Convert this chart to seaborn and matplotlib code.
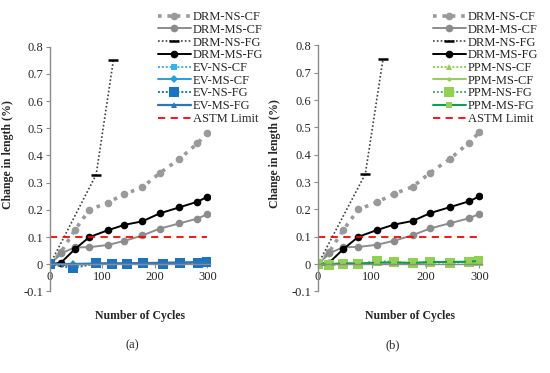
import matplotlib
matplotlib.use("Agg")
import matplotlib.pyplot as plt
import seaborn as sns
import numpy as np
from matplotlib.ticker import FuncFormatter, FixedLocator

sns.set_theme(style="white")
plt.rcParams['font.family'] = ['Liberation Serif', 'DejaVu Serif']

# ---- data ----
cycles = [0, 21, 47, 75, 110, 142, 176, 209, 246, 281, 300]
drm_ns_cf = [0, 0.045, 0.125, 0.2, 0.227, 0.258, 0.283, 0.335, 0.386, 0.445, 0.482]
drm_ms_cf = [0, 0.04, 0.062, 0.063, 0.071, 0.086, 0.106, 0.131, 0.15, 0.168, 0.184]
cycles_ns_fg = [0, 88, 121]
drm_ns_fg = [0, 0.33, 0.752]
drm_ms_fg = [0, 0.006, 0.055, 0.1, 0.125, 0.145, 0.158, 0.187, 0.209, 0.23, 0.248]

cycles_ev = [0, 44, 88, 118, 147, 178, 216, 248, 283, 300]
ev_ns_cf = [0, -0.005, 0.002, 0.003, 0.004, 0.004, 0.005, 0.006, 0.007, 0.010]
ev_ms_cf = [0, 0.002, 0.003, 0.004, 0.004, 0.005, 0.006, 0.006, 0.008, 0.012]
ev_ns_fg = [0, -0.014, 0.003, 0.002, 0.002, 0.004, 0.002, 0.005, 0.005, 0.008]
ev_ms_fg = [0, 0.000, 0.002, 0.003, 0.003, 0.004, 0.005, 0.006, 0.007, 0.010]

ppm_ns_cf = [0, 0.000, 0.003, 0.003, 0.006, 0.006, 0.004, 0.006, 0.006, 0.008, 0.010]
ppm_ms_cf = [0, 0.002, 0.003, 0.004, 0.005, 0.005, 0.006, 0.007, 0.008, 0.009, 0.011]
ppm_ns_fg = [0, -0.004, 0.002, 0.000, 0.012, 0.008, 0.003, 0.007, 0.006, 0.007, 0.012]
ppm_ms_fg = [0, -0.002, 0.003, 0.002, 0.006, 0.006, 0.004, 0.008, 0.008, 0.009, 0.012]

astm_x = [0, 300]
astm_y = [0.1, 0.1]

y_ticks = [-0.1, 0, 0.1, 0.2, 0.3, 0.4, 0.5, 0.6, 0.7, 0.8]
x_ticks = [0, 100, 200, 300]

fig = plt.figure(figsize=(5.5, 3.73), dpi=100)
axA = fig.add_axes([50/550, 1-291.5/373, 160/550, 244.8/373])
axB = fig.add_axes([318/550, 1-291.5/373, 164/550, 246/373])

txt = '#262626'
FS = 9

def draw_drm(ax):
    sns.lineplot(x=cycles, y=drm_ns_cf, ax=ax, sort=False, color='#9a9a9a', linestyle=(0, (1, 1.6)),
                 linewidth=2.6, marker='o', markersize=5.5, markeredgewidth=0, label='DRM-NS-CF')
    sns.lineplot(x=cycles, y=drm_ms_cf, ax=ax, sort=False, color='#8c8c8c', linestyle='-',
                 linewidth=1.4, marker='o', markersize=5.5, markeredgewidth=0, label='DRM-MS-CF')
    sns.lineplot(x=cycles_ns_fg, y=drm_ns_fg, ax=ax, sort=False, color='#404040', linestyle=(0, (1, 1.3)),
                 linewidth=1.2, marker='_', markersize=7, markeredgewidth=1.8, markeredgecolor='black',
                 label='DRM-NS-FG')
    sns.lineplot(x=cycles, y=drm_ms_fg, ax=ax, sort=False, color='black', linestyle='-',
                 linewidth=1.4, marker='o', markersize=5.5, markeredgewidth=0, label='DRM-MS-FG')

def style_ax(ax):
    ax.set_xlim(0, 305)
    ax.set_ylim(-0.1, 0.8)
    for s in ['top', 'right']:
        ax.spines[s].set_visible(False)
    ax.spines['bottom'].set_position(('data', 0))
    for s in ['left', 'bottom']:
        ax.spines[s].set_color('#8c8c8c')
        ax.spines[s].set_linewidth(1.0)
    ax.yaxis.set_major_locator(FixedLocator(y_ticks))
    ax.xaxis.set_major_locator(FixedLocator(x_ticks))
    ax.yaxis.set_major_formatter(FuncFormatter(lambda v, p: f"{v:g}"))
    ax.xaxis.set_major_formatter(FuncFormatter(lambda v, p: f"{v:g}"))
    ax.tick_params(axis='both', which='major', direction='out', length=3, width=0.8,
                   color='#8c8c8c', labelsize=FS, labelcolor=txt, pad=2, left=True, bottom=True)
    ax.set_ylabel('Change in length (%)', fontsize=8.5, fontweight='bold', color=txt)
    ax.yaxis.set_label_coords(-0.225, 0.56)
    ax.set_xlabel('Number of Cycles', fontsize=8.5, fontweight='bold', color=txt)
    ax.xaxis.set_label_coords(0.56, -0.075)
    ax.set_facecolor('none')
    ax.grid(False)

# Panel (a)
draw_drm(axA)
sns.lineplot(x=cycles_ev, y=ev_ns_cf, ax=axA, sort=False, color='#33b5f0', linestyle=(0, (1, 1)),
             linewidth=1.4, marker='s', markersize=5, markeredgewidth=0, label='EV-NS-CF')
sns.lineplot(x=cycles_ev, y=ev_ms_cf, ax=axA, sort=False, color='#1fa0e0', linestyle='-',
             linewidth=1.4, marker='D', markersize=4, markeredgewidth=0, label='EV-MS-CF')
sns.lineplot(x=cycles_ev, y=ev_ns_fg, ax=axA, sort=False, color='#1874c4', linestyle=(0, (1, 1)),
             linewidth=1.4, marker='s', markersize=6.5, markeredgewidth=0, label='EV-NS-FG')
sns.lineplot(x=cycles_ev, y=ev_ms_fg, ax=axA, sort=False, color='#2e75b6', linestyle='-',
             linewidth=1.6, marker='^', markersize=5, markeredgewidth=0, label='EV-MS-FG')
sns.lineplot(x=astm_x, y=astm_y, ax=axA, color='#ff0000', linestyle=(0, (4, 3)), linewidth=1.3,
             label='ASTM Limit')

# Panel (b)
draw_drm(axB)
sns.lineplot(x=cycles, y=ppm_ns_cf, ax=axB, sort=False, color='#92d050', linestyle=(0, (1, 1)),
             linewidth=1.4, marker='^', markersize=5, markeredgewidth=0, label='PPM-NS-CF')
sns.lineplot(x=cycles, y=ppm_ms_cf, ax=axB, sort=False, color='#92d050', linestyle='-',
             linewidth=1.4, marker='o', markersize=3, markeredgewidth=0, label='PPM-MS-CF')
sns.lineplot(x=cycles, y=ppm_ns_fg, ax=axB, sort=False, color='#3cb371', linestyle=(0, (1, 1)),
             linewidth=1.4, marker='s', markersize=6.5, markeredgewidth=0, markerfacecolor='#92d050',
             label='PPM-NS-FG')
sns.lineplot(x=cycles, y=ppm_ms_fg, ax=axB, sort=False, color='#00a050', linestyle='-',
             linewidth=1.4, marker='s', markersize=5, markeredgewidth=0, markerfacecolor='#92d050',
             label='PPM-MS-FG')
sns.lineplot(x=astm_x, y=astm_y, ax=axB, color='#ff0000', linestyle=(0, (4, 3)), linewidth=1.3,
             label='ASTM Limit')

for ax in (axA, axB):
    style_ax(ax)

legA = axA.legend(loc='upper left', bbox_to_anchor=(158/550, 1-11/373), bbox_transform=fig.transFigure,
                  frameon=False, fontsize=FS, handlelength=2.6, handletextpad=0.2, labelspacing=0.06,
                  borderaxespad=0, borderpad=0, numpoints=1)
legB = axB.legend(loc='upper left', bbox_to_anchor=(433/550, 1-11/373), bbox_transform=fig.transFigure,
                  frameon=False, fontsize=FS, handlelength=2.6, handletextpad=0.2, labelspacing=0.06,
                  borderaxespad=0, borderpad=0, numpoints=1)
for leg in (legA, legB):
    for t in leg.get_texts():
        t.set_color(txt)

fig.text(132/550, 1-345/373, '(a)', ha='center', va='center', fontsize=FS, color=txt)
fig.text(393/550, 1-345/373, '(b)', ha='center', va='center', fontsize=FS, color=txt)

fig.savefig('out.png', dpi=100, facecolor='white')
